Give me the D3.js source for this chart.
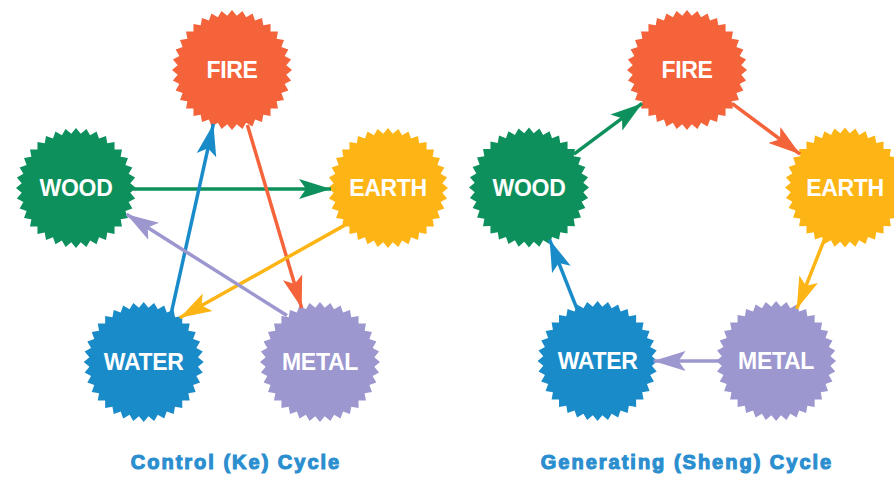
<!DOCTYPE html>
<html>
<head>
<meta charset="utf-8">
<script src="https://cdn.jsdelivr.net/npm/d3@7/dist/d3.min.js"></script>
<style>
  html, body { margin: 0; padding: 0; background: #ffffff; }
  svg { display: block; }
</style>
</head>
<body>
<script>
// ---------- data ----------
const elements = ["FIRE", "EARTH", "METAL", "WATER", "WOOD"];
const elementColors = ["#F4633A", "#FDB515", "#9C97CF", "#1A8BC9", "#0E905C"];
// Control (Ke) cycle: source -> target
const keSources = ["WOOD", "FIRE", "EARTH", "WATER", "METAL"];
const keTargets = ["EARTH", "METAL", "WATER", "FIRE", "WOOD"];
// Generating (Sheng) cycle
const shengSources = ["WOOD", "FIRE", "EARTH", "METAL", "WATER"];
const shengTargets = ["FIRE", "EARTH", "METAL", "WATER", "WOOD"];
const panelTitles = ["Control (Ke) Cycle", "Generating (Sheng) Cycle"];

// ---------- layout (unit coordinates inside a panel) ----------
const layoutX = { FIRE: 0.5, WOOD: 0, EARTH: 1, WATER: 0.217, METAL: 0.782 };
const layoutY = { FIRE: 0, WOOD: 0.404, EARTH: 0.404, WATER: 1, METAL: 1 };
// anchor directions on the node rims for the Ke panel (start dir, end dir)
const keAnchors = [
  [[1, 0.02], [-1, 0.02]],
  [[16, 57], [-20, -59]],
  [[-43, 37], [40, -49]],
  [[29, -52], [-20, 58]],
  [[-37, -52], [52, 27]]
];

const W = 894, H = 482;
const svg = d3.select("body").append("svg").attr("width", W).attr("height", H);

const panels = [
  { title: panelTitles[0], src: keSources, tgt: keTargets, xr: [76, 388], yr: [70, 362], tx: 236, anchors: keAnchors },
  { title: panelTitles[1], src: shengSources, tgt: shengTargets, xr: [529, 845], yr: [70, 361], tx: 687, anchors: null }
];

const color = d3.scaleOrdinal().domain(elements).range(elementColors);

const R_OUT = 60, R_IN = 54.5, TEETH = 36;
const burstPts = d3.range(TEETH * 2).map(i => [i * Math.PI / TEETH, i % 2 === 0 ? R_OUT : R_IN]);
const burst = d3.lineRadial().curve(d3.curveLinearClosed)(burstPts);

const defs = svg.append("defs");
elements.forEach(e => {
  defs.append("marker")
    .attr("id", "arr-" + e)
    .attr("viewBox", "0 -11 32 22")
    .attr("refX", 32).attr("refY", 0)
    .attr("markerWidth", 32).attr("markerHeight", 22)
    .attr("markerUnits", "userSpaceOnUse")
    .attr("orient", "auto")
    .append("path")
    .attr("d", "M0,-10 L32,0 L0,10 L7,0 Z")
    .attr("fill", color(e));
});

panels.forEach(p => {
  const x = d3.scaleLinear().domain([0, 1]).range(p.xr);
  const y = d3.scaleLinear().domain([0, 1]).range(p.yr);
  const g = svg.append("g");

  // nodes
  const nodes = g.selectAll("g.node").data(elements).join("g")
    .attr("class", "node")
    .attr("transform", d => `translate(${x(layoutX[d])},${y(layoutY[d])})`);
  nodes.append("path").attr("d", burst).attr("fill", d => color(d));
  nodes.append("text")
    .attr("text-anchor", "middle")
    .attr("dy", "0.36em")
    .attr("fill", "#ffffff")
    .attr("font-family", "'Liberation Sans', Arial, sans-serif")
    .attr("font-weight", "bold")
    .attr("font-size", 23)
    .attr("letter-spacing", "-0.3")
    .text(d => d);

  // arrows
  const edges = p.src.map((s, i) => ({ s, t: p.tgt[i], i }));
  g.selectAll("line.edge").data(edges).join("line")
    .attr("class", "edge")
    .each(function (d) {
      const x1 = x(layoutX[d.s]), y1 = y(layoutY[d.s]);
      const x2 = x(layoutX[d.t]), y2 = y(layoutY[d.t]);
      let s0, e0;
      if (p.anchors) {
        const [as, ae] = p.anchors[d.i];
        const ls = Math.hypot(as[0], as[1]), le = Math.hypot(ae[0], ae[1]);
        s0 = [x1 + as[0] / ls * 57, y1 + as[1] / ls * 57];
        e0 = [x2 + ae[0] / le * 57, y2 + ae[1] / le * 57];
      } else {
        const dx = x2 - x1, dy = y2 - y1, L = Math.hypot(dx, dy);
        s0 = [x1 + dx * 56 / L, y1 + dy * 56 / L];
        e0 = [x2 - dx * 56 / L, y2 - dy * 56 / L];
      }
      d3.select(this)
        .attr("x1", s0[0]).attr("y1", s0[1])
        .attr("x2", e0[0]).attr("y2", e0[1]);
    })
    .attr("stroke", d => color(d.s))
    .attr("stroke-width", 3.5)
    .attr("marker-end", d => `url(#arr-${d.s})`);

  // caption
  svg.append("text")
    .attr("x", p.tx).attr("y", 469)
    .attr("text-anchor", "middle")
    .attr("fill", "#2A8ECF")
    .attr("stroke", "#2A8ECF").attr("stroke-width", 1.1)
    .attr("font-family", "'Liberation Sans', Arial, sans-serif")
    .attr("font-weight", "bold")
    .attr("font-size", 20)
    .attr("letter-spacing", "2")
    .text(p.title);
});
</script>
</body>
</html>
